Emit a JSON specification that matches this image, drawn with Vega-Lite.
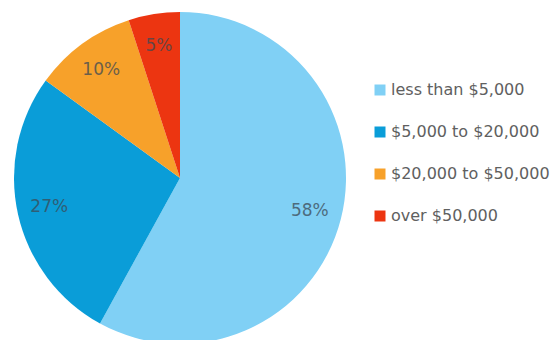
{
  "$schema": "https://vega.github.io/schema/vega-lite/v6.json",
  "width": 360,
  "height": 340,
  "padding": {"left": 0, "top": 0, "right": 198, "bottom": 0},
  "autosize": {"type": "none"},
  "background": "white",
  "config": {"view": {"stroke": null}, "font": "DejaVu Sans"},
  "data": {
    "values": [
      {"category": "less than $5,000", "value": 58, "label": "58%", "order": 1},
      {"category": "$5,000 to $20,000", "value": 27, "label": "27%", "order": 2},
      {"category": "$20,000 to $50,000", "value": 10, "label": "10%", "order": 3},
      {"category": "over $50,000", "value": 5, "label": "5%", "order": 4}
    ]
  },
  "encoding": {
    "theta": {"field": "value", "type": "quantitative", "stack": true},
    "order": {"field": "order", "type": "quantitative"}
  },
  "layer": [
    {
      "mark": {"type": "arc", "radius": 166, "yOffset": 8},
      "encoding": {
        "color": {
          "field": "category",
          "type": "nominal",
          "scale": {
            "domain": ["less than $5,000", "$5,000 to $20,000", "$20,000 to $50,000", "over $50,000"],
            "range": ["#80d0f5", "#0a9dd8", "#f7a12a", "#ec3511"]
          },
          "legend": {
            "title": null,
            "orient": "none",
            "legendX": 372,
            "legendY": 82,
            "symbolType": "square",
            "symbolSize": 121,
            "symbolStrokeWidth": 0,
            "labelFontSize": 16,
            "labelColor": "#606060",
            "labelFont": "DejaVu Sans",
            "labelOffset": 3,
            "labelLimit": 300,
            "rowPadding": 26
          }
        }
      }
    },
    {
      "mark": {"type": "text", "radius": 134, "yOffset": 8, "fontSize": 17, "fill": "#3c4a55", "opacity": 0.75, "font": "DejaVu Sans"},
      "encoding": {"text": {"field": "label"}}
    }
  ]
}
